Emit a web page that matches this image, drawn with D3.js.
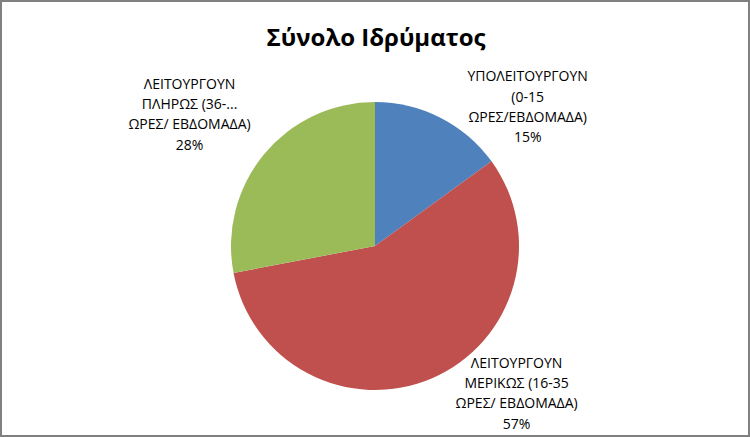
<!DOCTYPE html>
<html>
<head>
<meta charset="utf-8">
<script src="https://cdn.jsdelivr.net/npm/d3@7"></script>
<style>
  html, body { margin: 0; padding: 0; background: #fff; }
  svg { display: block; }
</style>
</head>
<body>
<svg id="chart" width="750" height="437"></svg>
<script>
// chart data
var title = 'Σύνολο Ιδρύματος';
var categories = [
    'ΥΠΟΛΕΙΤΟΥΡΓΟΥΝ (0-15 ΩΡΕΣ/ΕΒΔΟΜΑΔΑ)',
    'ΛΕΙΤΟΥΡΓΟΥΝ ΜΕΡΙΚΩΣ (16-35 ΩΡΕΣ/ ΕΒΔΟΜΑΔΑ)',
    'ΛΕΙΤΟΥΡΓΟΥΝ ΠΛΗΡΩΣ (36-... ΩΡΕΣ/ ΕΒΔΟΜΑΔΑ)'
];
var values = [15, 57, 28];
// how the labels wrap in the picture
var labelLines = [
    ['ΥΠΟΛΕΙΤΟΥΡΓΟΥΝ', '(0-15', 'ΩΡΕΣ/ΕΒΔΟΜΑΔΑ)'],
    ['ΛΕΙΤΟΥΡΓΟΥΝ', 'ΜΕΡΙΚΩΣ (16-35', 'ΩΡΕΣ/ ΕΒΔΟΜΑΔΑ)'],
    ['ΛΕΙΤΟΥΡΓΟΥΝ', 'ΠΛΗΡΩΣ (36-...', 'ΩΡΕΣ/ ΕΒΔΟΜΑΔΑ)']
];
var colors = ['#4f81bd', '#c0504d', '#9bbb59'];

var width = 750;
var height = 437;
var cx = 375, cy = 246, radius = 144;
var lineH = 20.3;
// label block centre, shifted from the slice centroid
var labelShift = [[120, -75], [113, 81], [-130, -86]];

var svg = d3.select('#chart');

// frame
svg.append('rect')
    .attr('x', 1).attr('y', 1)
    .attr('width', width - 2).attr('height', height - 2)
    .attr('fill', '#fff')
    .attr('stroke', '#808080')
    .attr('stroke-width', 2);

svg.append('text')
    .attr('x', 376)
    .attr('y', 46)
    .attr('text-anchor', 'middle')
    .attr('font-family', 'Open Sans, sans-serif')
    .attr('font-weight', 'bold')
    .attr('font-size', 24)
    .attr('fill', '#000')
    .text(title);

var total = d3.sum(values);
var pie = d3.pie().sort(null).value(function (d) { return d; });
var arc = d3.arc().innerRadius(0).outerRadius(radius);
var arcs = pie(values);

var g = svg.append('g').attr('transform', 'translate(' + [cx, cy] + ')');

g.selectAll('path')
    .data(arcs)
    .enter().append('path')
    .attr('d', arc)
    .attr('fill', function (d, i) { return colors[i]; });

var fmt = d3.format('.0%');

var labels = g.selectAll('text.lbl')
    .data(arcs)
    .enter().append('text')
    .attr('class', 'lbl')
    .attr('text-anchor', 'middle')
    .attr('font-family', 'Open Sans, sans-serif')
    .attr('font-size', 14)
    .attr('fill', '#000');

labels.each(function (d, i) {
    var c = arc.centroid(d);
    var x = c[0] + labelShift[i][0];
    var y = c[1] + labelShift[i][1];
    var lines = labelLines[i].concat([fmt(d.value / total)]);
    var t = d3.select(this);
    lines.forEach(function (s, k) {
        t.append('tspan')
            .attr('x', x)
            .attr('y', y + (k - (lines.length - 1) / 2) * lineH + 5)
            .text(s);
    });
});
</script>
</body>
</html>
